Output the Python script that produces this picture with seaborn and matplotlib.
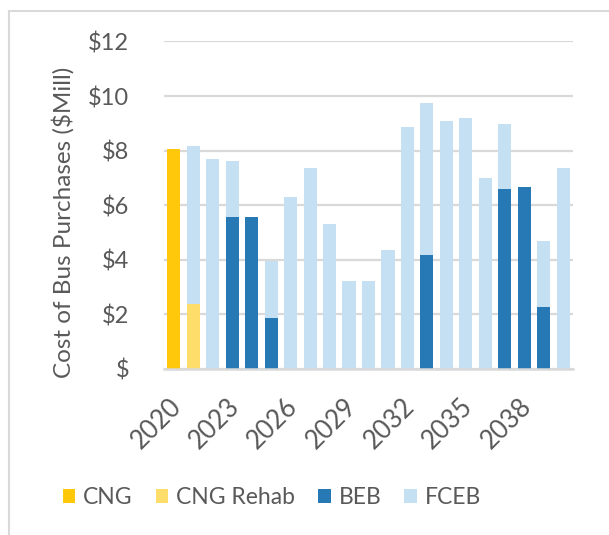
import matplotlib
matplotlib.use("Agg")
import matplotlib.pyplot as plt
from matplotlib.patches import Patch
from matplotlib.lines import Line2D
from matplotlib.transforms import ScaledTranslation
import seaborn as sns
import pandas as pd
import numpy as np

years = [str(y) for y in range(2020, 2041)]
cng = [8.07, 0, 0, 0, 0, 0, 0, 0, 0, 0, 0, 0, 0, 0, 0, 0, 0, 0, 0, 0, 0]
cng_rehab = [0, 2.39, 0, 0, 0, 0, 0, 0, 0, 0, 0, 0, 0, 0, 0, 0, 0, 0, 0, 0, 0]
beb = [0, 0, 0, 5.56, 5.56, 1.88, 0, 0, 0, 0, 0, 0, 0, 4.18, 0, 0, 0, 6.58, 6.65, 2.26, 0]
fceb = [0, 5.78, 7.69, 2.05, 0, 2.08, 6.29, 7.36, 5.30, 3.24, 3.24, 4.36, 8.86, 5.58, 9.10, 9.19, 6.98, 2.38, 0, 2.43, 7.36]
series = ["CNG", "CNG Rehab", "BEB", "FCEB"]
colors = ["#FFC80A", "#FFDD6B", "#2679B4", "#C5E0F2"]
yticks = [0, 2, 4, 6, 8, 10, 12]
ytick_labels = ["$", "$2", "$4", "$6", "$8", "$10", "$12"]
xtick_years = ["2020", "2023", "2026", "2029", "2032", "2035", "2038"]

sns.set_theme(style="white")
plt.rcParams["font.family"] = ["Lato", "DejaVu Sans"]
text_color = "#595959"

df = pd.DataFrame({"year": years, "CNG": cng, "CNG Rehab": cng_rehab, "BEB": beb, "FCEB": fceb})
cum = df[series].cumsum(axis=1)
cum["year"] = df["year"]

W, H = 609, 535
fig = plt.figure(figsize=(W / 100, H / 100), dpi=100)
ax = fig.add_axes([164 / W, 1 - 369 / H, (573 - 164) / W, (369 - 41.4) / H])

# draw cumulative layers from top down so lower series overlay upper
for s, c in reversed(list(zip(series, colors))):
    sns.barplot(data=cum, x="year", y=s, order=years, color=c, saturation=1,
                width=0.67, ax=ax, errorbar=None, linewidth=0, zorder=3)

ax.set_ylim(0, 12)
ax.set_xlim(-0.5, len(years) - 0.5)
ax.set_yticks(yticks)
ax.set_yticklabels(ytick_labels)
ax.yaxis.grid(True, color="#D9D9D9", linewidth=1.6, zorder=0)
ax.set_axisbelow(True)
for sp in ["top", "right", "left"]:
    ax.spines[sp].set_visible(False)
ax.spines["bottom"].set_color("#D9D9D9")
ax.spines["bottom"].set_linewidth(1.8)
ax.spines["bottom"].set_zorder(4)

xt = [years.index(y) for y in xtick_years]
ax.set_xticks(xt)
ax.set_xticklabels(xtick_years, rotation=45, ha="right", va="top", rotation_mode="anchor")
ax.tick_params(axis="x", length=0, pad=18, labelsize=18.5, labelcolor=text_color)
ax.tick_params(axis="y", length=0, pad=25, labelsize=17, labelcolor=text_color)
for lbl in ax.get_xticklabels():
    lbl.set_transform(lbl.get_transform() + ScaledTranslation(-4 / 72, 0, fig.dpi_scale_trans))
ax.set_xlabel("")
ax.set_ylabel("")

fig.text(63 / W, 1 - 222 / H, "Cost of Bus Purchases ($Mill)", rotation=90,
         ha="center", va="center", fontsize=17.5, color=text_color)

handles = [Patch(facecolor=c, edgecolor="none") for c in colors]
fig.legend(handles, series, loc="center", bbox_to_anchor=(272 / W, 1 - 498 / H),
           ncol=4, frameon=False, fontsize=16.5, handlelength=0.55, handleheight=0.55,
           handletextpad=0.35, columnspacing=1.0, labelcolor=text_color)

# chart border (left and top edges visible in the crop)
fig.add_artist(Line2D([9 / W, 9 / W], [0, 1 - 11 / H], color="#D9D9D9", linewidth=1.5,
                      transform=fig.transFigure))
fig.add_artist(Line2D([9 / W, 1], [1 - 11 / H, 1 - 11 / H], color="#D9D9D9", linewidth=1.5,
                      transform=fig.transFigure))

fig.savefig("out.png", dpi=100)
